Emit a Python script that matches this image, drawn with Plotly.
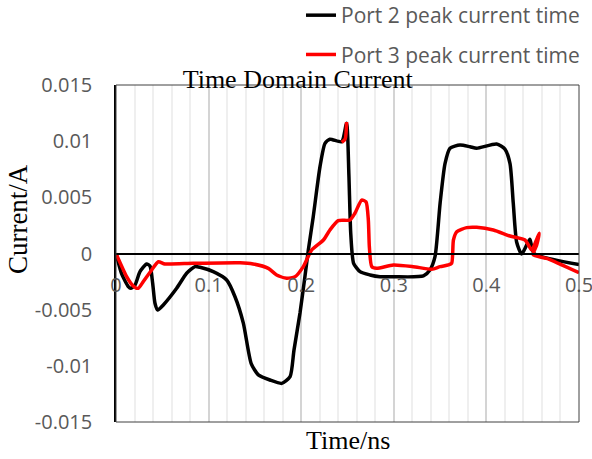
import plotly.graph_objects as go

# ---- data (time in ns, current in A) ----
port2_time = [0, 0.006, 0.0133, 0.0158, 0.0205, 0.0259, 0.0331, 0.0367, 0.0396, 0.0421,
              0.045, 0.0511, 0.0655, 0.0763, 0.0853, 0.0907, 0.105, 0.1195, 0.1285, 0.1375,
              0.146, 0.1537, 0.1663, 0.179, 0.188, 0.1922, 0.1987, 0.204, 0.2077, 0.213,
              0.2203, 0.2257, 0.231, 0.2437, 0.249, 0.2515, 0.2535, 0.2566, 0.2635, 0.2743,
              0.285, 0.2995, 0.332, 0.339, 0.3445, 0.35, 0.3553, 0.3607, 0.3715, 0.3823,
              0.3895, 0.411, 0.42, 0.4255, 0.429, 0.4327, 0.438, 0.4435, 0.447, 0.4514, 0.5]
port2_current = [0, -0.0018, -0.00295, -0.0031, -0.0028, -0.00162, -0.00093, -0.00111, -0.00265, -0.00443,
                 -0.00503, -0.00458, -0.0031, -0.00176, -0.00117, -0.00123, -0.00162, -0.00236, -0.00385, -0.0062,
                 -0.0098, -0.0108, -0.01126, -0.01156, -0.01097, -0.0086, -0.0053, -0.00207, 0.00031, 0.00328,
                 0.00773, 0.0098, 0.01017, 0.00995, 0.0116, 0.007, 0.0018, -0.00087, -0.00162, -0.00191,
                 -0.00207, -0.00207, -0.002, -0.00147, -0.00028, 0.00447, 0.008, 0.00937, 0.00966, 0.0095,
                 0.00937, 0.00975, 0.0093, 0.008, 0.0045, 0.001, -0.00005, 0.00076, 0.00126, 0.0, -0.00098]

port3_time = [0, 0.0115, 0.0187, 0.024, 0.0295, 0.0385, 0.0457, 0.0528, 0.0835, 0.134,
              0.148, 0.1645, 0.1735, 0.1843, 0.1933, 0.2023, 0.2113, 0.224, 0.231, 0.24,
              0.2527, 0.258, 0.2653, 0.27, 0.2725, 0.2736, 0.2762, 0.2815, 0.2995, 0.321,
              0.341, 0.35, 0.359, 0.3625, 0.3644, 0.368, 0.3787, 0.3895, 0.4075, 0.4255,
              0.4417, 0.4453, 0.449, 0.4525, 0.4572, 0.4543, 0.4507, 0.465, 0.5,
              None, 0.2437, 0.2475, 0.249]
port3_current = [0, -0.00206, -0.0029, -0.0031, -0.0025, -0.00147, -0.00073, -0.00093, -0.00087, -0.00082,
                 -0.00093, -0.00132, -0.00191, -0.0022, -0.00207, -0.00117, 0.00031, 0.0012, 0.00209, 0.00292,
                 0.00298, 0.00358, 0.00476, 0.0046, 0.00298, 0.0006, -0.00117, -0.00132, -0.00102, -0.00117,
                 -0.0014, -0.00117, -0.00102, -0.00087, 0.0012, 0.00194, 0.0023, 0.00233, 0.00209, 0.00156,
                 0.0012, 0.00076, 0.00031, 0.0009, 0.0018, 0.00076, -0.00013, -0.00043, -0.00171,
                 None, 0.0099, 0.0102, 0.0117]

x_ticks = [0, 0.1, 0.2, 0.3, 0.4, 0.5]
x_tick_text = ["0", "0.1", "0.2", "0.3", "0.4", "0.5"]
y_ticks = [0.015, 0.01, 0.005, 0, -0.005, -0.01, -0.015]
y_tick_text = ["0.015", "0.01", "0.005", "0", "-0.005", "-0.01", "-0.015"]

GRAY = "#595959"
SANS = "Open Sans"
SERIF = "Liberation Serif"

fig = go.Figure()
fig.add_trace(go.Scatter(x=port2_time, y=port2_current, mode="lines", name="Port 2 peak current time",
                         line=dict(color="black", width=3.5, shape="spline", smoothing=0.6),
                         legendgroup="a"))
fig.add_trace(go.Scatter(x=port3_time, y=port3_current, mode="lines", name="Port 3 peak current time",
                         line=dict(color="#ff0000", width=3.5, shape="spline", smoothing=0.6),
                         legendgroup="b", connectgaps=False))

fig.update_layout(
    width=592, height=459,
    margin=dict(l=116, r=13, t=85, b=37, autoexpand=False),
    paper_bgcolor="white", plot_bgcolor="white",
    title=dict(text="Time Domain Current", x=0.503, xref="container", xanchor="center",
               y=0.828, yref="container", yanchor="middle",
               font=dict(family=SERIF, size=26, color="black")),
    legend=dict(xref="paper", yref="paper", x=1.013, xanchor="right", y=1.267, yanchor="top",
                font=dict(family=SANS, size=21, color=GRAY), tracegroupgap=9,
                bgcolor="rgba(0,0,0,0)"),
    showlegend=True,
    xaxis=dict(range=[0, 0.5], anchor="free", position=0.5,
               showline=True, linecolor="black", linewidth=2,
               tickvals=x_ticks, ticktext=x_tick_text, ticks="",
               ticklabelstandoff=13, ticklabeloverflow="allow",
               tickfont=dict(family=SANS, size=20, color=GRAY),
               showgrid=True, gridcolor="#d4d4d4", gridwidth=1.5,
               minor=dict(dtick=0.02, showgrid=True, gridcolor="#efefef", gridwidth=1.5),
               zeroline=False, fixedrange=True),
    yaxis=dict(range=[-0.015, 0.015], tickvals=y_ticks, ticktext=y_tick_text, ticks="",
               ticklabelstandoff=18,
               tickfont=dict(family=SANS, size=20, color=GRAY),
               showgrid=False, zeroline=False,
               showline=True, linecolor="black", linewidth=1.5, fixedrange=True),
    shapes=[dict(type="rect", xref="x domain", yref="y domain", x0=0, x1=1, y0=0, y1=1,
                 line=dict(color="#404040", width=1), layer="above")],
    annotations=[
        dict(text="Time/ns", xref="paper", yref="paper", x=0.5, y=-0.056,
             xanchor="center", yanchor="middle", showarrow=False,
             font=dict(family=SERIF, size=26, color="black")),
        dict(text="Current/A", xref="paper", yref="paper", x=-0.2117, y=0.602,
             xanchor="center", yanchor="middle", textangle=-90, showarrow=False,
             font=dict(family=SERIF, size=27, color="black")),
    ],
)

fig.write_html("out.html", config={"displayModeBar": False},
               post_script="document.body.style.margin='0';")
